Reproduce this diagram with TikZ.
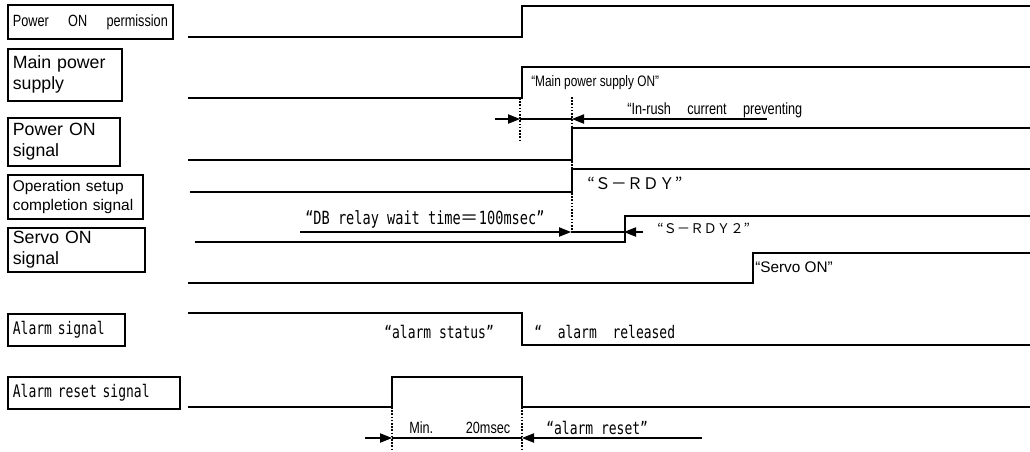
\documentclass[tikz,border=0pt]{standalone}
\usepackage{fontspec}
\setmainfont{Liberation Sans}
\newfontfamily\narrowsans[FakeStretch=0.78]{Liberation Sans}
\newfontfamily\gothic[FakeStretch=0.75]{DejaVu Sans Mono}
\newfontfamily\cjk{Noto Sans CJK JP}
\usetikzlibrary{arrows.meta}
\begin{document}
\begin{tikzpicture}[x=0.75pt,y=-0.75pt,
  sig/.style={line width=1.8pt, line join=miter},
  labelbox/.style={draw, line width=1.3pt, anchor=north west, inner xsep=3.75pt, inner ysep=0pt, align=left},
  dimline/.style={line width=0.8pt},
  dimarrow/.style={line width=0.8pt, -{Triangle[length=9pt,width=7pt]}},
  guide/.style={line width=0.9pt, dash pattern=on 1.2pt off 1.2pt},
  txt/.style={inner sep=0pt, anchor=west},
  bigsans/.style={font=\fontsize{13.3}{15.75}\selectfont},
  gt/.style={font=\gothic\fontsize{13}{15}\selectfont},
  nar/.style={font=\narrowsans\fontsize{#1}{#1}\selectfont},
]
\useasboundingbox (0,0) rectangle (1030,451);

% label boxes
\node[labelbox, text width=116.25pt, minimum height=25.5pt, nar=12.2] (lPerm) at (7,4)
  {\makebox[116.25pt][s]{Power\hfill ON\hfill permission}};
\node[labelbox, bigsans, text width=78pt, minimum height=39pt] (lMain) at (7,48) {Main power\\supply};
\node[labelbox, bigsans, text width=76.5pt, minimum height=36pt] (lPon) at (7,117) {Power ON\\signal};
\node[labelbox, text width=93.75pt, minimum height=33pt, font=\fontsize{11.6}{14.2}\selectfont] (lOp) at (7,174) {Operation setup\\completion signal};
\node[labelbox, bigsans, text width=95.25pt, minimum height=33pt] (lServo) at (7,227) {Servo ON\\signal};
\node[labelbox, gt, text width=80.25pt, minimum height=24pt] (lAlarm) at (7,313) {Alarm signal};
\node[labelbox, gt, text width=121.5pt, minimum height=24pt] (lReset) at (7,376) {Alarm reset signal};

% guide lines
\draw[guide] (520,98) -- (520,140);
\draw[guide] (572,97) -- (572,233);
\draw[guide] (392,407) -- (392,451);
\draw[guide] (522,407) -- (522,451);

% signals
\draw[sig] (188,37) -- (522,37) -- (522,6) -- (1030,6);
\draw[sig] (188,98) -- (522,98) -- (522,67) -- (1030,67);
\draw[sig] (188,160) -- (572,160) -- (572,128) -- (1030,128);
\draw[sig] (190,192) -- (572,192) -- (572,169) -- (1030,169);
\draw[sig] (195,242) -- (625,242) -- (625,216) -- (1030,216);
\draw[sig] (188,283) -- (753,283) -- (753,253) -- (1030,253);
\draw[sig] (188,313) -- (522,313) -- (522,345) -- (1030,345);
\draw[sig] (188,407) -- (392,407) -- (392,377) -- (522,377) -- (522,407) -- (1030,407);

% dimension arrows
\coordinate (r1a) at (495,119); \coordinate (r1b) at (520,119);
\coordinate (r1c) at (572,119); \coordinate (r1d) at (767,119);
\draw[dimarrow] (r1a) -- (r1b);
\draw[dimline] (r1b) -- (r1c);
\draw[dimarrow] (r1d) -- (r1c);

\coordinate (r2a) at (300,232); \coordinate (r2b) at (571,232);
\coordinate (r2c) at (624,232); \coordinate (r2d) at (643,232);
\draw[dimarrow] (r2a) -- (r2b);
\draw[dimline] (r2b) -- (r2c);
\draw[dimarrow] (r2d) -- (r2c);

\coordinate (r3a) at (365,438); \coordinate (r3b) at (392,438);
\coordinate (r3c) at (522,438); \coordinate (r3d) at (702,438);
\draw[dimarrow] (r3a) -- (r3b);
\draw[dimline] (r3b) -- (r3c);
\draw[dimarrow] (r3d) -- (r3c);

% texts
\node[txt, nar=11.4] (tMainOn) at (531,83) {“Main power supply ON”};
\node[txt, nar=12.2] (tRush) at (627,110) {\makebox[131.25pt][s]{“In-rush\hfill current\hfill preventing}};
\node[txt, font=\cjk\fontsize{12}{14}\selectfont] (tSrdy) at (587,183) {“Ｓ－ＲＤＹ”};
\node[txt, font=\gothic\fontsize{13.6}{15}\selectfont] (tDB) at (305,219) {“DB relay wait time{\cjk ＝}100msec”};
\node[txt, font=\cjk\fontsize{10}{12}\selectfont] (tSrdy2) at (657,228) {“Ｓ－ＲＤＹ２”};
\node[txt, font=\fontsize{11.5}{13}\selectfont] (tServo) at (755,267) {“Servo ON”};
\node[txt, gt] (tAst) at (384,332) {“alarm status”};
\node[txt, gt] (tArel) at (534,332) {“\ \ alarm\ \ released};
\node[txt, nar=12.2] (tMin) at (409,428) {\makebox[75.75pt][s]{Min.\hfill 20msec}};
\node[txt, gt] (tAres) at (546,428) {“alarm reset”};
\end{tikzpicture}
\end{document}
